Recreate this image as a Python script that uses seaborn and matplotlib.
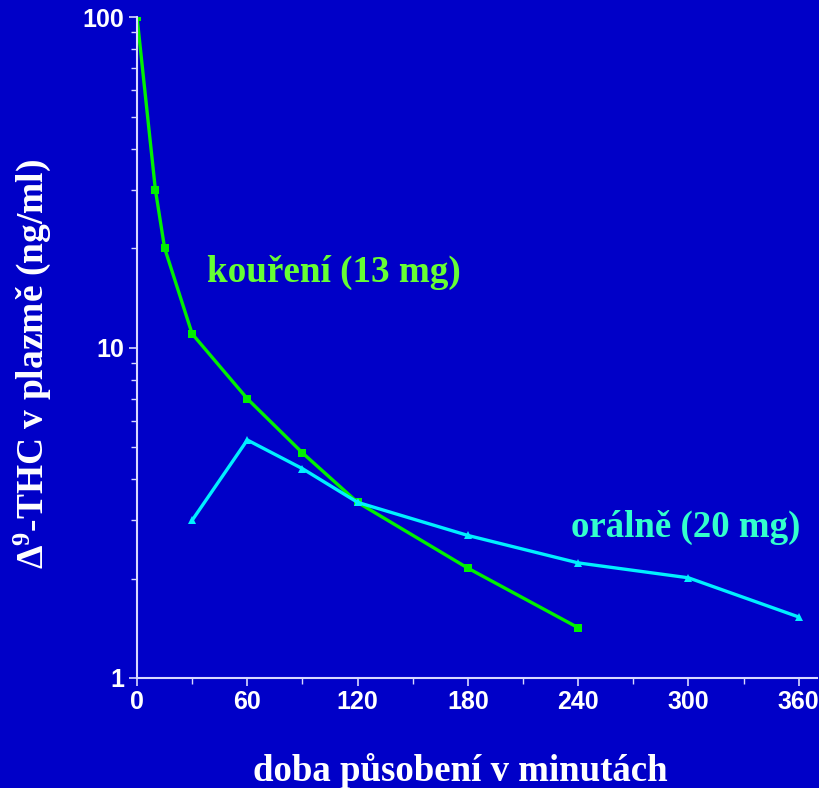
import numpy as np
import pandas as pd
import matplotlib
matplotlib.use("Agg")
import matplotlib.pyplot as plt
import matplotlib.ticker as mticker
import seaborn as sns

# Data
smoke_time = [0, 10, 15, 30, 60, 90, 120, 180, 240]
smoke_conc = [100, 30, 20, 11, 7.0, 4.8, 3.4, 2.15, 1.42]
oral_time = [30, 60, 90, 120, 180, 240, 300, 360]
oral_conc = [3.0, 5.25, 4.3, 3.4, 2.7, 2.23, 2.01, 1.53]
x_ticks = [0, 60, 120, 180, 240, 300, 360]
y_ticks = [1, 10, 100]

bg = "#0000c8"
green = "#00f000"
cyan = "#00f0ff"

sns.set_style("ticks")
plt.rcParams["font.family"] = ["Liberation Sans Narrow", "Liberation Sans", "DejaVu Sans"]
plt.rcParams["mathtext.fontset"] = "custom"
plt.rcParams["mathtext.rm"] = "Liberation Serif:bold"
plt.rcParams["mathtext.it"] = "Liberation Serif:bold"
plt.rcParams["mathtext.bf"] = "Liberation Serif:bold"

smoke = pd.DataFrame({"t": smoke_time, "c": smoke_conc})
oral = pd.DataFrame({"t": oral_time, "c": oral_conc})

fig = plt.figure(figsize=(8.19, 7.88), dpi=100, facecolor=bg)
ax = fig.add_axes([0.1673, 0.1396, 0.8303, 0.8388])
ax.set_facecolor(bg)

sns.lineplot(data=smoke, x="t", y="c", ax=ax, color=green, lw=2.4,
             marker="s", markersize=6, markeredgewidth=0, markerfacecolor=green)
sns.lineplot(data=oral, x="t", y="c", ax=ax, color=cyan, lw=2.4,
             marker="^", markersize=5.5, markeredgewidth=0, markerfacecolor=cyan)

ax.set_yscale("log")
ax.set_xlim(0, 370)
ax.set_ylim(1, 100)
ax.set_xticks(x_ticks)
ax.xaxis.set_minor_locator(mticker.MultipleLocator(30))
ax.set_yticks(y_ticks)
ax.yaxis.set_major_formatter(mticker.FuncFormatter(lambda v, p: f"{v:g}"))
ax.yaxis.set_minor_locator(mticker.LogLocator(base=10, subs=np.arange(2, 10)))
ax.yaxis.set_minor_formatter(mticker.NullFormatter())

for side in ["top", "right"]:
    ax.spines[side].set_visible(False)
for side in ["left", "bottom"]:
    ax.spines[side].set_color("#d8d8ff")
    ax.spines[side].set_linewidth(1.5)

ax.tick_params(which="both", colors="#d8d8ff", direction="out")
ax.tick_params(which="major", length=6, width=1.2, labelsize=18, labelcolor="white", pad=3)
ax.tick_params(which="minor", length=4, width=1.0)
for lab in ax.get_xticklabels() + ax.get_yticklabels():
    lab.set_fontweight("bold")

serif = ["Liberation Serif", "DejaVu Serif"]
ax.set_xlabel("doba působení v minutách", family=serif, fontsize=26.6,
              fontweight="bold", color="white")
ax.xaxis.set_label_coords(0.475, -0.113)
ax.set_ylabel("Δ$^{9}$-THC v plazmě (ng/ml)", family=serif, fontsize=27,
              fontweight="bold", color="white")
ax.yaxis.set_label_coords(-0.124, 0.475)

ax.text(38, 16.9, "kouření (13 mg)", family=serif, fontsize=26.7,
        fontweight="bold", color="#66ff33", va="center")
ax.text(236, 2.86, "orálně (20 mg)", family=serif, fontsize=26.6,
        fontweight="bold", color="#33ffcc", va="center")

fig.savefig("out.png", dpi=100, facecolor=bg)
